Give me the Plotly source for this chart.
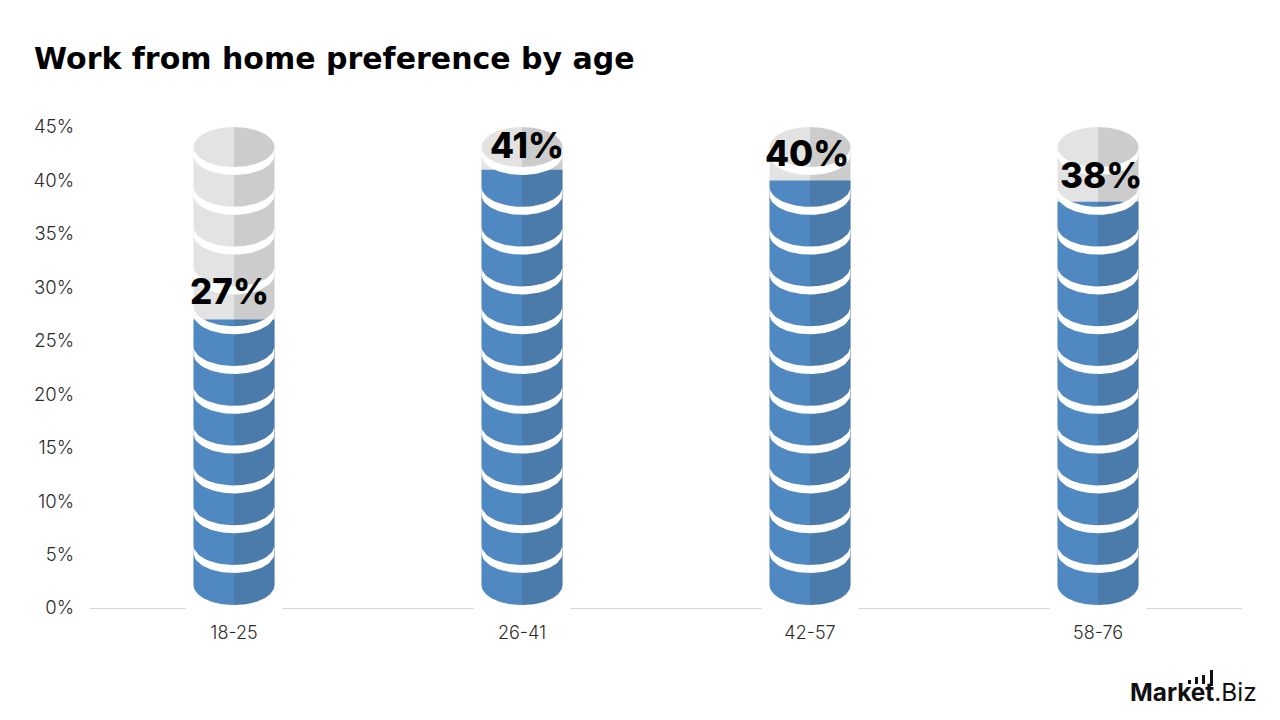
import numpy as np
import plotly.graph_objects as go

# Chart data
age_groups = ["18-25", "26-41", "42-57", "58-76"]
preference = [27, 41, 40, 38]
value_labels = ["27%", "41%", "40%", "38%"]
y_ticks = [0, 5, 10, 15, 20, 25, 30, 35, 40, 45]
y_tick_labels = ["0%", "5%", "10%", "15%", "20%", "25%", "30%", "35%", "40%", "45%"]

# Plot frame in pixels
WIDTH, HEIGHT = 1280, 720
LEFT, RIGHT, TOP, BOTTOM = 90, 1242, 127, 608
Y_MAX = 45
PX_PER_UNIT_Y = (BOTTOM - TOP) / Y_MAX
PX_PER_UNIT_X = (RIGHT - LEFT) / len(age_groups)

# Cylinder geometry, in pixels
HALF_W = 40.5 / PX_PER_UNIT_X
RY = 20 / PX_PER_UNIT_Y
FOOT = 3 / PX_PER_UNIT_Y
BAND = 8 / PX_PER_UNIT_Y
PERIOD = 39.8 / PX_PER_UNIT_Y
BAND_COUNT = 11
GAP_HALF = 48.5 / PX_PER_UNIT_X

BLUE_L, BLUE_R = "#5089c1", "#4a7bab"
GREY_L, GREY_R = "#e3e3e3", "#cccccc"
FONT = "Inter"
TEXT = "#2b2b2b"

# Small offsets that place each value label over its column
LABEL_DX = [-5, 5, -3, 3]
LABEL_DY = [28, 25, 27, 27]


def px_x(px):
    return (px - LEFT) / (RIGHT - LEFT)


def px_y(py):
    return (BOTTOM - py) / (BOTTOM - TOP)


def arc(cx, cy, start, stop, n=40):
    t = np.linspace(start, stop, n)
    return cx + HALF_W * np.cos(t), cy + RY * np.sin(t)


def fill(xs, ys, color):
    return go.Scatter(
        x=list(xs), y=list(ys), mode="lines", fill="toself", fillcolor=color,
        line=dict(width=0), hoverinfo="skip", showlegend=False,
    )


def half_body(cx, side, top_value, color, capped):
    """One half of a column from its rounded foot up to top_value."""
    sx = cx + side * HALF_W
    bottom_cy = FOOT + RY
    if side < 0:
        foot_x, foot_y = arc(cx, bottom_cy, np.pi, 1.5 * np.pi)
    else:
        foot_x, foot_y = arc(cx, bottom_cy, 2 * np.pi, 1.5 * np.pi)
    if capped:
        top_cy = top_value - RY
        if side < 0:
            cap_x, cap_y = arc(cx, top_cy, 0.5 * np.pi, np.pi)
        else:
            cap_x, cap_y = arc(cx, top_cy, 0.5 * np.pi, 0)
    else:
        cap_x, cap_y = np.array([cx, sx]), np.array([top_value, top_value])
    return fill(np.r_[foot_x, cap_x], np.r_[foot_y, cap_y], color)


fig = go.Figure()

for i, value in enumerate(preference):
    # Full-height grey column, then the blue part cut flat at the value
    fig.add_trace(half_body(i, -1, Y_MAX, GREY_L, True))
    fig.add_trace(half_body(i, 1, Y_MAX, GREY_R, True))
    fig.add_trace(half_body(i, -1, value, BLUE_L, False))
    fig.add_trace(half_body(i, 1, value, BLUE_R, False))

    # White rims separating the stacked disks
    for k in range(BAND_COUNT):
        cy = Y_MAX - RY - k * PERIOD
        ux, uy = arc(i, cy, np.pi, 2 * np.pi)
        lx, ly = arc(i, cy - BAND, 2 * np.pi, np.pi)
        fig.add_trace(fill(np.r_[ux, lx], np.r_[uy, ly], "white"))

# Value labels sit just above the flat top of the blue part
annotations = [
    dict(
        x=i, y=v, xref="x", yref="y", text=t, showarrow=False,
        xshift=LABEL_DX[i], yshift=LABEL_DY[i], xanchor="center", yanchor="middle",
        font=dict(family=FONT, size=35, color="#000000", weight=800),
    )
    for i, (v, t) in enumerate(zip(preference, value_labels))
]

# Wordmark in the lower right corner
annotations.append(dict(
    x=px_x(1259), y=px_y(692), xref="paper", yref="paper",
    xanchor="right", yanchor="middle", showarrow=False,
    text="<b>Market</b>.Biz",
    font=dict(family="Inter", size=24.4, color="#111111"),
))

logo_bars = [(1188, 1191, 680, 684), (1195, 1198, 677, 684), (1202, 1205, 675, 684), (1210, 1213, 670, 686)]
shapes = [
    dict(
        type="rect", xref="paper", yref="paper", layer="above",
        x0=px_x(x0), x1=px_x(x1), y0=px_y(y1), y1=px_y(y0),
        fillcolor="#111111", line=dict(width=0),
    )
    for x0, x1, y0, y1 in logo_bars
]

# Baseline, broken behind each column
base_edges = [-0.5]
for i in range(len(age_groups)):
    base_edges += [i - GAP_HALF, i + GAP_HALF]
base_edges.append(len(age_groups) - 0.5)
for x0, x1 in zip(base_edges[::2], base_edges[1::2]):
    shapes.append(dict(
        type="line", xref="x", yref="paper", layer="below",
        x0=x0, x1=x1, y0=px_y(608.5), y1=px_y(608.5),
        line=dict(color="#d6d6d6", width=1),
    ))

fig.update_layout(
    width=WIDTH, height=HEIGHT, autosize=False,
    margin=dict(l=LEFT, r=WIDTH - RIGHT, t=TOP, b=HEIGHT - BOTTOM, pad=0),
    paper_bgcolor="white", plot_bgcolor="white",
    showlegend=False,
    font=dict(family=FONT, size=17, color=TEXT),
    title=dict(
        text="Work from home preference by age",
        x=34 / WIDTH, xref="container", xanchor="left",
        y=1 - 58.5 / HEIGHT, yref="container", yanchor="middle",
        font=dict(family="DejaVu Sans", size=30, color="#000000", weight=700),
    ),
    xaxis=dict(
        range=[-0.5, len(age_groups) - 0.5], tickvals=list(range(len(age_groups))),
        ticktext=age_groups, showgrid=False, zeroline=False, showline=False,
        ticks="", ticklabelstandoff=12, tickfont=dict(family=FONT, size=18, color=TEXT, weight=300),
    ),
    yaxis=dict(
        range=[0, Y_MAX], tickvals=y_ticks, ticktext=y_tick_labels, showgrid=False,
        zeroline=False, showline=False, ticks="", ticklabelstandoff=15,
        tickfont=dict(family=FONT, size=18.5, color=TEXT, weight=300),
    ),
    annotations=annotations,
    shapes=shapes,
)

fig.write_html("out.html")
